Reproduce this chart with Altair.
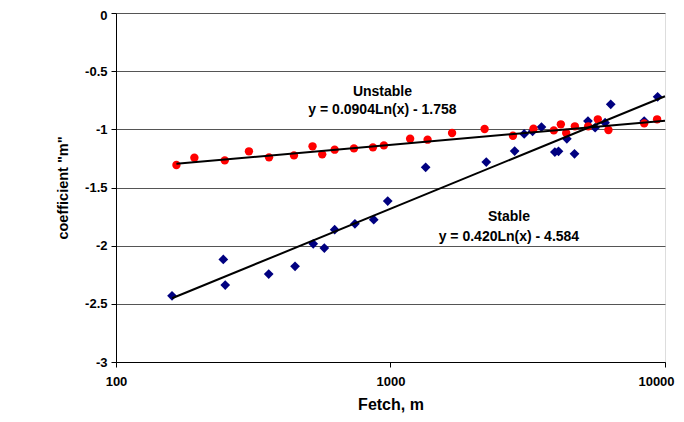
import altair as alt
import pandas as pd
import numpy as np

unstable_fetch = [166, 193, 249, 305, 361, 445, 520, 564, 626, 736, 863, 946, 1179, 1365,
                  1676, 2202, 2793, 3318, 3935, 4174, 4365, 4695, 5250, 5692, 6223, 8398, 9359]
unstable_m = [-1.307, -1.244, -1.267, -1.189, -1.241, -1.224, -1.146, -1.215, -1.175, -1.164,
              -1.155, -1.138, -1.081, -1.089, -1.032, -0.997, -1.055, -0.995, -1.009, -0.957,
              -1.032, -0.974, -0.974, -0.914, -1.006, -0.949, -0.914]

stable_fetch = [160, 246, 250, 360, 449, 523, 574, 626, 742, 869, 977, 1343, 2233, 2833, 3069,
                3293, 3548, 3970, 4093, 4390, 4681, 5240, 5565, 6050, 6343, 8398, 9400]
stable_m = [-2.431, -2.118, -2.339, -2.244, -2.178, -1.984, -2.021, -1.863, -1.812, -1.777,
            -1.617, -1.327, -1.281, -1.187, -1.040, -1.017, -0.980, -1.195, -1.189, -1.081,
            -1.210, -0.929, -0.986, -0.943, -0.785, -0.929, -0.720]

trend_names = ["Unstable", "Stable"]
trend_coef = [0.0904, 0.420]
trend_const = [-1.758, -4.584]
trend_start = [166, 160]
trend_end = [10000, 10000]

label_text = ["Unstable", "y = 0.0904Ln(x) - 1.758", "Stable", "y = 0.420Ln(x) - 4.584"]
label_x = [935, 935, 2700, 2700]
label_y = [-0.677, -0.837, -1.757, -1.929]

x_ticks = [100, 1000, 10000]
y_ticks = [0, -0.5, -1, -1.5, -2, -2.5, -3]

FONT = "Liberation Sans"

unst = pd.DataFrame({"fetch": unstable_fetch, "m": unstable_m})
stab = pd.DataFrame({"fetch": stable_fetch, "m": stable_m})

rows = []
for n, a, b, s, e in zip(trend_names, trend_coef, trend_const, trend_start, trend_end):
    for xv in (s, e):
        rows.append({"series": n, "fetch": xv, "m": a * np.log(xv) + b})
trend = pd.DataFrame(rows)
labels = pd.DataFrame({"text": label_text, "fetch": label_x, "m": label_y})

xscale = alt.Scale(type="log", domain=[100, 10000])
yscale = alt.Scale(domain=[-3, 0], nice=False, zero=False)

xenc = alt.X("fetch:Q", scale=xscale, title="Fetch, m",
             axis=alt.Axis(values=x_ticks, format="d", grid=False, labelFlush=False,
                           labelOffset={"condition": {"test": "datum.value >= 10000", "value": -9},
                                        "value": 0},
                           tickColor="black", domainColor="black", tickSize=5,
                           labelFont=FONT, labelFontSize=13, labelFontWeight="bold",
                           labelColor="black", labelPadding=8,
                           titleFont=FONT, titleFontSize=16, titleFontWeight="bold",
                           titleColor="black", titleY=47, titleBaseline="alphabetic"))
yenc = alt.Y("m:Q", scale=yscale, title='coefficient "m"',
             axis=alt.Axis(values=y_ticks, grid=True, gridColor="#555555", gridWidth=1,
                           labelExpr="toString(datum.value)",
                           labelOffset={"condition": {"test": "datum.value >= 0", "value": 2},
                                        "value": 0},
                           tickColor="black", domainColor="black", tickSize=5,
                           labelFont=FONT, labelFontSize=13, labelFontWeight="bold",
                           labelColor="black", labelPadding=4,
                           titleFont=FONT, titleFontSize=14.5, titleFontWeight="bold",
                           titleColor="black", titleX=-53, titleBaseline="middle"))

stable_pts = alt.Chart(stab).mark_point(shape="diamond", filled=True, color="#000080",
                                        size=95, opacity=1).encode(x=xenc, y=yenc)
unstable_pts = alt.Chart(unst).mark_circle(color="#FF0000", size=70, opacity=1).encode(
    x="fetch:Q", y="m:Q")
lines = alt.Chart(trend).mark_line(color="black", strokeWidth=2).encode(
    x="fetch:Q", y="m:Q", detail="series:N")
texts = alt.Chart(labels).mark_text(font=FONT, fontSize=14, fontWeight="bold",
                                    color="black", align="center", baseline="middle").encode(
    x="fetch:Q", y="m:Q", text="text:N")

chart = alt.layer(stable_pts, unstable_pts, lines, texts).properties(
    width=549, height=349,
    autosize=alt.AutoSizeParams(type="none"),
    padding={"left": 108, "top": 5, "right": 11, "bottom": 52},
).configure_view(stroke="black", strokeWidth=1.5).configure(background="white")

chart.save("out.html", embed_options={"renderer": "svg", "actions": False})
